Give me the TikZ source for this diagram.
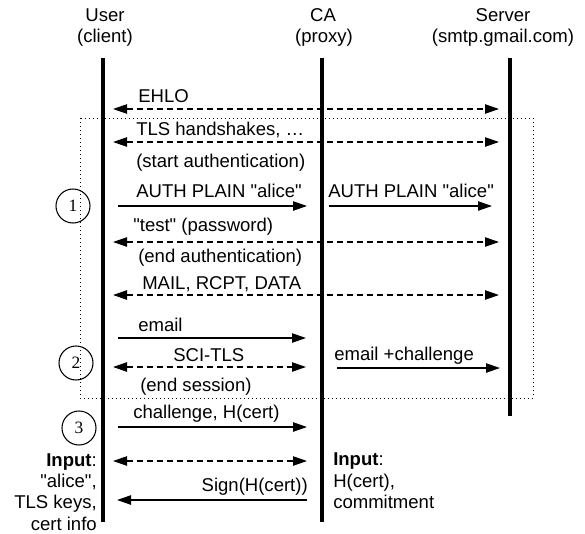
\documentclass[tikz,border=0pt]{standalone}
\usepackage{fontspec}
\setmainfont{Liberation Sans}[Ligatures=TeXOff]
\newfontfamily\numfont{Liberation Serif}
\usetikzlibrary{arrows.meta}
\begin{document}
\begin{tikzpicture}[x=0.75pt,y=-0.75pt,
  font=\fontsize{13.9}{16}\selectfont,
  life/.style={line width=2.3pt},
  tip/.tip={Triangle[length=10.5pt,width=7pt]},
  msg/.style={line width=1pt,-tip},
  msgl/.style={line width=1pt,tip-},
  both/.style={line width=1pt,dash pattern=on 4.5pt off 3pt,tip-tip},
  lbl/.style={inner sep=0pt,anchor=west},
  hdr/.style={inner sep=0pt},
  num/.style={circle,draw,line width=0.8pt,minimum size=25.5pt,inner sep=0pt,font=\numfont\fontsize{13}{15}\selectfont},
  dotbox/.style={line width=0.75pt,dash pattern=on 0.75pt off 2.25pt}]
\useasboundingbox (0,0) rectangle (585,533);

% headers
\node[hdr] (user)  at (105,15) {User};
\node[hdr] (userc) at (105,38) {(client)};
\node[hdr] (ca)    at (323,15) {CA};
\node[hdr] (cap)   at (324,38) {(proxy)};
\node[hdr] (srv)   at (503,15) {Server};
\node[hdr] (srvs)  at (503,38) {(smtp.gmail.com)};

% dotted box
\coordinate (bxA) at (80,118);
\coordinate (bxB) at (533,398);
\draw[dotbox] (bxA) rectangle (bxB);

% lifelines
\coordinate (uT) at (103,58);  \coordinate (uB) at (103,522);
\coordinate (cT) at (322,58);  \coordinate (cB) at (322,522);
\coordinate (sT) at (510,58);  \coordinate (sB) at (510,416);
\draw[life] (uT) -- (uB);
\draw[life] (cT) -- (cB);
\draw[life] (sT) -- (sB);

% EHLO
\coordinate (e1) at (113,109); \coordinate (e2) at (499,109);
\draw[both] (e1) -- (e2);
\node[lbl] (ehlo) at (138,96) {EHLO};
% TLS
\coordinate (t1) at (113,142); \coordinate (t2) at (499,142);
\draw[both] (t1) -- (t2);
\node[lbl] (tls) at (136,130) {TLS handshakes, …};
\node[lbl] (sa) at (136,163) {(start authentication)};
% AUTH
\coordinate (a1) at (118,206); \coordinate (a2) at (307,206);
\draw[msg] (a1) -- (a2);
\node[lbl] (auth1) at (136,191) {AUTH PLAIN "alice"};
\coordinate (a3) at (329,206); \coordinate (a4) at (492,206);
\draw[msg] (a3) -- (a4);
\node[lbl] (auth2) at (328,191) {AUTH PLAIN "alice"};
% test
\coordinate (p1) at (113,242); \coordinate (p2) at (499,242);
\draw[both] (p1) -- (p2);
\node[lbl] (pw) at (133,227) {"test" (password)};
\node[lbl] (ea) at (138,258) {(end authentication)};
% MAIL
\coordinate (m1) at (113,295); \coordinate (m2) at (499,295);
\draw[both] (m1) -- (m2);
\node[lbl] (mail) at (142,284) {MAIL, RCPT, DATA};
% email
\coordinate (em1) at (118,338); \coordinate (em2) at (306,338);
\draw[msg] (em1) -- (em2);
\node[lbl] (email) at (138,325) {email};
% SCI-TLS
\coordinate (s1) at (113,367); \coordinate (s2) at (306,367);
\draw[both] (s1) -- (s2);
\node[lbl] (sci) at (173,355) {SCI-TLS};
% email + challenge
\coordinate (ec1) at (337,368); \coordinate (ec2) at (500,368);
\draw[msg] (ec1) -- (ec2);
\node[lbl] (emc) at (334,356) {email +challenge};
\node[lbl] (es) at (140,387) {(end session)};
% challenge
\coordinate (ch1) at (118,427); \coordinate (ch2) at (307,427);
\draw[msg] (ch1) -- (ch2);
\node[lbl] (chl) at (133,414) {challenge, H(cert)};
% dashed
\coordinate (d1) at (113,461); \coordinate (d2) at (307,461);
\draw[both] (d1) -- (d2);
% sign
\coordinate (sg1) at (117,500); \coordinate (sg2) at (307,500);
\draw[msgl] (sg1) -- (sg2);
\node[inner sep=0pt,anchor=east] (sign) at (308,487) {Sign(H(cert))};

% circled numbers
\node[num] (n1) at (73,206) {1};
\node[num] (n2) at (76,363) {2};
\node[num] (n3) at (79,428) {3};

% inputs
\node[inner sep=0pt,anchor=east,align=right] (inL) at (97,492)
  {\textbf{Input}:\\"alice",\\TLS keys,\\cert info};
\node[inner sep=0pt,anchor=west,align=left] (inR) at (333,481)
  {\textbf{Input}:\\H(cert),\\commitment};
\end{tikzpicture}
\end{document}
